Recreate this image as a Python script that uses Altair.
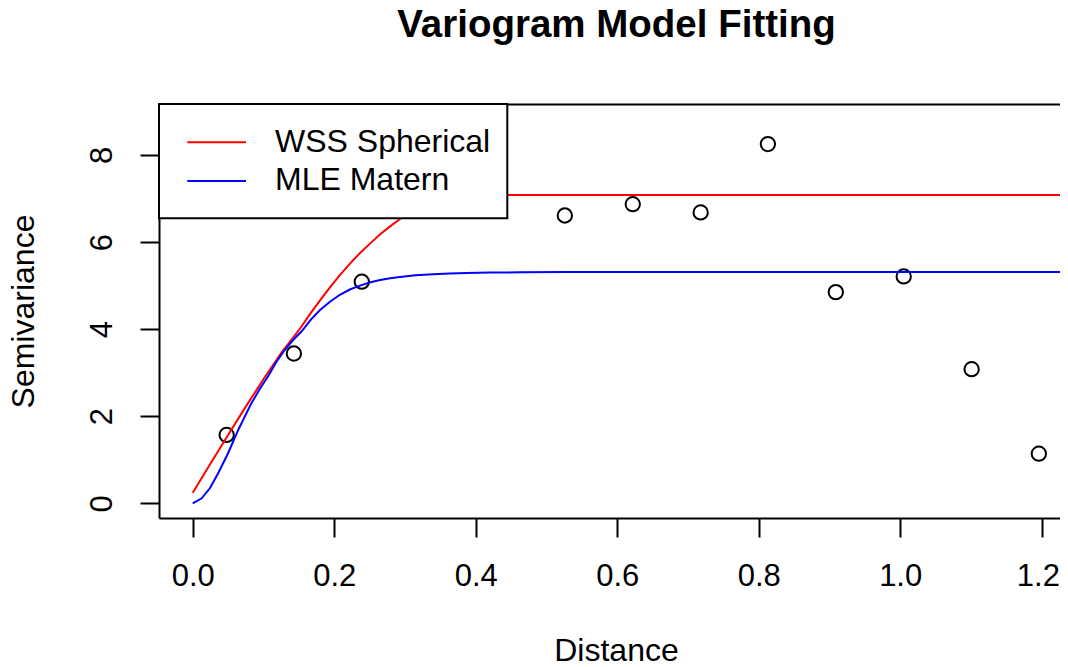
import altair as alt
import pandas as pd

dist = [0.048, 0.143, 0.239, 0.526, 0.622, 0.718, 0.813, 0.909, 1.005, 1.101, 1.196]
semiv = [1.57, 3.44, 5.09, 6.61, 6.87, 6.68, 8.25, 4.85, 5.21, 3.08, 1.14]

# ---- fitted model curves ----
wss_x = [0.0, 0.025, 0.05, 0.075, 0.10, 0.125, 0.152, 0.166, 0.180, 0.194, 0.208, 0.222,
         0.2365, 0.251, 0.265, 0.279, 0.293, 0.307, 0.32, 0.335, 0.35, 0.368, 0.386, 1.26]
wss_y = [0.24, 0.91, 1.57, 2.22, 2.85, 3.45, 4.02, 4.35, 4.66, 4.96, 5.24, 5.50,
         5.75, 5.97, 6.18, 6.36, 6.53, 6.67, 6.78, 6.88, 6.97, 7.04, 7.08, 7.08]

mle_x = [0.0, 0.0127, 0.0245, 0.036, 0.050, 0.0645, 0.083, 0.095, 0.107, 0.118, 0.130,
         0.142, 0.154, 0.167, 0.180, 0.194, 0.208, 0.222, 0.2365, 0.250, 0.265, 0.279,
         0.293, 0.315, 0.340, 0.363, 0.387, 0.42, 0.463, 0.53, 1.26]
mle_y = [0.0, 0.115, 0.35, 0.69, 1.15, 1.69, 2.30, 2.63, 2.93, 3.24, 3.52,
         3.75, 3.95, 4.22, 4.44, 4.63, 4.79, 4.91, 5.00, 5.07, 5.13, 5.17,
         5.20, 5.235, 5.26, 5.28, 5.29, 5.30, 5.305, 5.31, 5.31]

series_names = ["WSS Spherical", "MLE Matern"]
series_colors = ["#FF0000", "#0000FF"]

x_ticks = [0.0, 0.2, 0.4, 0.6, 0.8, 1.0, 1.2]
y_ticks = [0, 2, 4, 6, 8]

FONT = "Liberation Sans"

pts = pd.DataFrame({"Distance": dist, "Semivariance": semiv})
lines = pd.concat([
    pd.DataFrame({"Distance": wss_x, "Semivariance": wss_y, "model": series_names[0]}),
    pd.DataFrame({"Distance": mle_x, "Semivariance": mle_y, "model": series_names[1]}),
], ignore_index=True)

xscale = alt.Scale(domain=[-0.04763, 1.2259], nice=False, zero=False)
yscale = alt.Scale(domain=[-0.3376, 9.171], nice=False, zero=False)

x_axis = alt.Axis(
    values=x_ticks, format=".1f", title="Distance", orient="bottom", grid=False,
    domainColor="black", domainWidth=2, tickColor="black", tickWidth=2, tickSize=19,
    labelFont=FONT, labelFontSize=31, labelColor="black", labelBaseline="alphabetic",
    labelPadding=48.7, labelFlush=20, labelFlushOffset=17.8, labelOverlap=False,
    titleFont=FONT, titleFontSize=32, titleFontWeight="normal", titleColor="black",
    titleBaseline="alphabetic", titleAlign="center", titleX=457, titleY=142.7,
)
y_axis = alt.Axis(
    values=y_ticks, format="d", title="Semivariance", orient="left", grid=False,
    domainColor="black", domainWidth=2, tickColor="black", tickWidth=2, tickSize=19,
    labelFont=FONT, labelFontSize=31, labelColor="black", labelAngle=270,
    labelAlign="center", labelBaseline="alphabetic", labelPadding=28.3,
    labelFlush=False, labelOverlap=False,
    titleFont=FONT, titleFontSize=32, titleFontWeight="normal", titleColor="black",
    titleAngle=270, titleBaseline="alphabetic", titleAlign="center", titleX=-126, titleY=207,
)
top_axis = alt.Axis(
    orient="top", labels=False, ticks=False, title=None, grid=False,
    domainColor="black", domainWidth=2,
)

points = alt.Chart(pts).mark_point(
    shape="circle", filled=False, color="black", strokeWidth=2, size=205, opacity=1
).encode(
    x=alt.X("Distance:Q", scale=xscale, axis=x_axis),
    y=alt.Y("Semivariance:Q", scale=yscale, axis=y_axis),
)

curves = alt.Chart(lines).mark_line(strokeWidth=2, clip=True).encode(
    x=alt.X("Distance:Q", scale=xscale, axis=top_axis),
    y=alt.Y("Semivariance:Q", scale=yscale, axis=y_axis),
    color=alt.Color("model:N", scale=alt.Scale(domain=series_names, range=series_colors),
                    legend=None),
    order=alt.Order("Distance:Q"),
)

# ---- legend box (R style, top-left) ----
legend_bg = alt.Chart(pd.DataFrame({"k": [0]})).mark_rect(
    fill="white", stroke="black", strokeWidth=2
).encode(x=alt.value(0), x2=alt.value(348.3), y=alt.value(0), y2=alt.value(114.3))

legend_layers = [legend_bg]
row_line_y = [38.3, 77.0]
row_text_y = [47.7, 86.0]
for i, name in enumerate(series_names):
    d = pd.DataFrame({"model": [name]})
    legend_layers.append(
        alt.Chart(d).mark_rule(strokeWidth=2).encode(
            x=alt.value(28.3), x2=alt.value(87), y=alt.value(row_line_y[i]),
            color=alt.value(series_colors[i]),
        )
    )
    legend_layers.append(
        alt.Chart(d).mark_text(
            align="left", baseline="alphabetic", font=FONT, fontSize=32, color="black"
        ).encode(x=alt.value(116), y=alt.value(row_text_y[i]), text="model:N")
    )

chart = alt.layer(points, curves, *legend_layers).properties(
    width=901,
    height=414,
    title=alt.TitleParams(
        "Variogram Model Fitting", font=FONT, fontSize=38.5, fontWeight="bold",
        color="black", anchor="middle", dx=7, baseline="alphabetic", offset=28,
    ),
    autosize=alt.AutoSizeParams(type="none"),
    padding={"left": 151, "top": 96, "right": 0, "bottom": 149},
).configure_view(stroke=None).configure(background="white")

chart.save("out.html", embed_options={"renderer": "svg", "actions": False})
